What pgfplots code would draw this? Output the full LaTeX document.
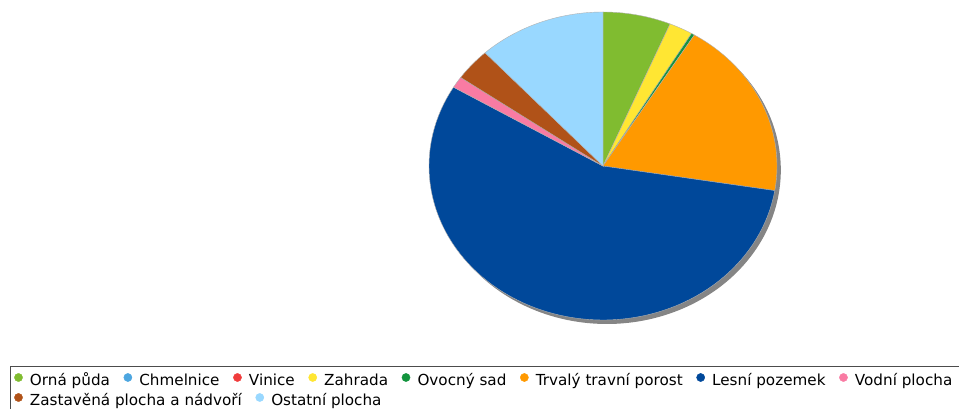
\documentclass[border=0pt]{standalone}
\usepackage{fontspec}
\setmainfont{DejaVu Sans}
\usepackage{pgfplots}
\pgfplotsset{compat=1.18}
\definecolor{orna}{HTML}{80BC30}
\definecolor{chmel}{HTML}{4DA6E0}
\definecolor{vinice}{HTML}{F03C3C}
\definecolor{zahrada}{HTML}{FFE633}
\definecolor{ovocny}{HTML}{13943E}
\definecolor{trvaly}{HTML}{FF9900}
\definecolor{lesni}{HTML}{00489A}
\definecolor{vodni}{HTML}{F97BA3}
\definecolor{zast}{HTML}{B05218}
\definecolor{ostatni}{HTML}{99D8FF}
\definecolor{shadow}{HTML}{858585}
\newcommand\legfont{\fontsize{15.2}{18}\selectfont}
\def\cum{0}
\newcommand\pieslice[2]{%
  \pgfmathsetmacro\a{90-3.6*\cum}%
  \pgfmathsetmacro\b{90-3.6*(\cum+#1)}%
  \pgfmathsetmacro\newcum{\cum+#1}\xdef\cum{\newcum}%
  \ifdim #1pt>0pt
    \edef\temp{\noexpand\addplot[fill=#2, draw=gray!60, line width=0.4pt, domain=\b:\a, samples=120, forget plot] ({cos(x)},{sin(x)}) -- (axis cs:0,0) -- cycle;}%
    \temp
  \fi}
\pgfplotsset{
  legrow/.style={anchor=south west, scale only axis, width=940pt, height=20pt, hide axis,
    xmin=0, xmax=1, ymin=0, ymax=1, legend columns=-1,
    legend style={at={(0,0.5)}, anchor=west, draw=none, fill=none, inner sep=0pt,
      font=\legfont, nodes={inner sep=0pt},
      /tikz/every odd column/.append style={column sep=7.2pt},
      /tikz/every even column/.append style={column sep=13.6pt}},
    legend image code/.code={\fill[##1] (0pt,2.5pt) circle (4.1pt);}}
}
\begin{document}
\begin{tikzpicture}
\path[use as bounding box] (0pt,0pt) rectangle (959pt,409pt);
\begin{axis}[at={(603pt,243pt)}, anchor=center, scale only axis, width=348pt, height=308pt,
  xmin=-1, xmax=1, ymin=-1, ymax=1, hide axis, clip=false, no markers]
  % shadow
  \addplot[fill=shadow, draw=none, domain=0:360, samples=200, forget plot]
    ({0.022+cos(x)},{-0.026+sin(x)}) -- cycle;
  % slices: percentage / colour
  \pieslice{6.3}{orna}
  \pieslice{0}{chmel}
  \pieslice{0}{vinice}
  \pieslice{2.2}{zahrada}
  \pieslice{0.3}{ovocny}
  \pieslice{18.75}{trvaly}
  \pieslice{56.0}{lesni}
  \pieslice{1.2}{vodni}
  \pieslice{3.4}{zast}
  \pieslice{11.85}{ostatni}
\end{axis}
\draw[draw=black!70, line width=0.9pt] (10.5pt,-10pt) rectangle (975pt,42.5pt);
\begin{axis}[legrow, at={(14pt,19pt)}]
  \addlegendimage{orna}\addlegendentry{Orná půda}
  \addlegendimage{chmel}\addlegendentry{Chmelnice}
  \addlegendimage{vinice}\addlegendentry{Vinice}
  \addlegendimage{zahrada}\addlegendentry{Zahrada}
  \addlegendimage{ovocny}\addlegendentry{Ovocný sad}
  \addlegendimage{trvaly}\addlegendentry{Trvalý travní porost}
  \addlegendimage{lesni}\addlegendentry{Lesní pozemek}
  \addlegendimage{vodni}\addlegendentry{Vodní plocha}
\end{axis}
\begin{axis}[legrow, at={(14pt,-1pt)}]
  \addlegendimage{zast}\addlegendentry{Zastavěná plocha a nádvoří}
  \addlegendimage{ostatni}\addlegendentry{Ostatní plocha}
\end{axis}
\end{tikzpicture}
\end{document}
